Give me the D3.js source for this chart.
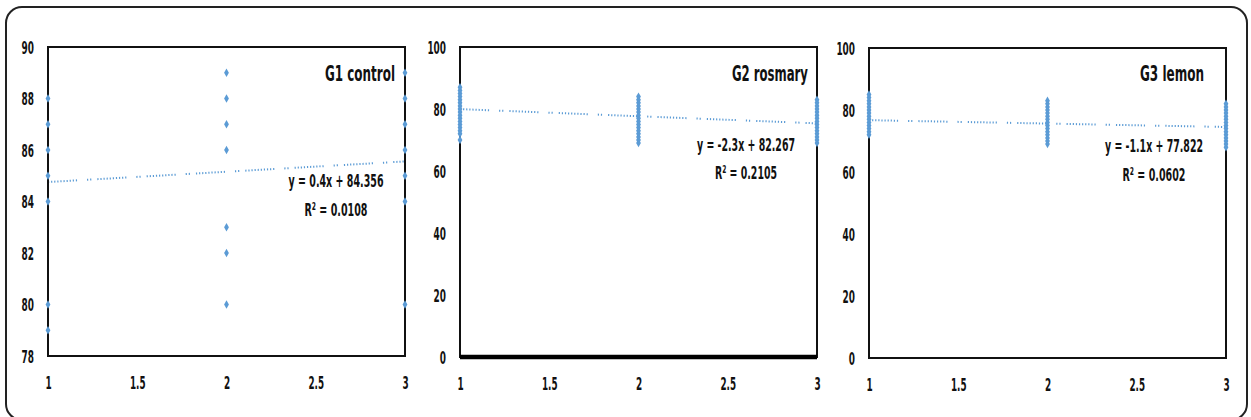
<!DOCTYPE html>
<html><head><meta charset="utf-8">
<script src="https://cdn.jsdelivr.net/npm/d3@7"></script>
<style>
html,body{margin:0;padding:0;background:#fff;}
svg{display:block;}
text{font-family:"Liberation Sans Narrow","Arial Narrow","DejaVu Sans Condensed","Liberation Sans",sans-serif;font-weight:bold;fill:#111;}
</style></head>
<body>
<svg id="chart" width="1251" height="417"></svg>
<script>
// ---- data ----
const xTicks = [1, 1.5, 2, 2.5, 3];
const titles = ["G1 control", "G2 rosmary", "G3 lemon"];
const equations = ["y = 0.4x + 84.356", "y = -2.3x + 82.267", "y = -1.1x + 77.822"];
const r2Labels = ["R² = 0.0108", "R² = 0.2105", "R² = 0.0602"];
const slopes = [0.4, -2.3, -1.1];
const intercepts = [84.356, 82.267, 77.822];
const yDomains = [[78, 90], [0, 100], [0, 100]];
const yTickSets = [[78, 80, 82, 84, 86, 88, 90], [0, 20, 40, 60, 80, 100], [0, 20, 40, 60, 80, 100]];

const g1Day1 = [88, 87, 86, 85, 84, 80, 79];
const g1Day2 = [89, 88, 87, 86, 83, 82, 80];
const g1Day3 = [89, 88, 87, 86, 85, 84, 80];
const g2Day1 = [87, 86, 85, 84, 83, 82, 81, 80, 79, 78, 77, 76, 75, 74, 73, 72, 70];
const g2Day2 = [84, 83, 82, 81, 80, 79, 78, 77, 76, 75, 74, 73, 72, 71, 70, 69];
const g2Day3 = [83, 82, 81, 80, 79, 78, 77, 76, 75, 74, 73, 72, 71, 70, 69];
const g3Day1 = [85, 84, 83, 82, 81, 80, 79, 78, 77, 76, 75, 74, 73, 72];
const g3Day2 = [83, 82, 81, 80, 79, 78, 77, 76, 75, 74, 73, 72, 71, 70, 69];
const g3Day3 = [82, 81, 80, 79, 78, 77, 76, 75, 74, 73, 72, 71, 70, 69, 68];
const groupDays = [[g1Day1, g1Day2, g1Day3], [g2Day1, g2Day2, g2Day3], [g3Day1, g3Day2, g3Day3]];

// ---- layout ----
const panels = [
  {l: 48, r: 405, t: 47, b: 356, bottomW: 2, titleX: 395, titleW: 70, eqCx: 336, eqY: 187, r2Y: 216, eqW: 95, r2W: 63},
  {l: 460, r: 817, t: 47, b: 357, bottomW: 4.5, titleX: 808, titleW: 76, eqCx: 746, eqY: 151, r2Y: 179, eqW: 98, r2W: 62},
  {l: 869, r: 1226, t: 48, b: 358, bottomW: 2, titleX: 1204, titleW: 64, eqCx: 1154, eqY: 152, r2Y: 181, eqW: 98, r2W: 63}
];
const blue = "#5b9bd5";

const svg = d3.select("#chart");
svg.append("rect").attr("x", 6).attr("y", 7).attr("width", 1241).attr("height", 413)
  .attr("rx", 16).attr("fill", "none").attr("stroke", "#222").attr("stroke-width", 2);

function fitText(sel, w) {
  sel.attr("textLength", w).attr("lengthAdjust", "spacingAndGlyphs");
}
function labelWidth(s) {
  let w = 0;
  for (const c of s) w += (c === "." ? 3.2 : 6.2);
  return w;
}

panels.forEach((p, i) => {
  const x = d3.scaleLinear().domain([1, 3]).range([p.l, p.r]);
  const y = d3.scaleLinear().domain(yDomains[i]).range([p.b, p.t]);
  const g = svg.append("g");

  // trendline (dotted)
  const tl = [1, 3].map(v => [x(v), y(slopes[i] * v + intercepts[i])]);
  const pat = [];
  for (let k = 0; k < 9; k++) pat.push(1.2, 1.9);
  pat.push(1.2, 10, 1.2, 1.9, 1.2, 6);
  g.append("path").attr("d", d3.line()(tl)).attr("fill", "none")
    .attr("stroke", blue).attr("stroke-width", 2).attr("stroke-dasharray", pat.join(","));

  // plot frame
  g.append("rect").attr("x", p.l).attr("y", p.t).attr("width", p.r - p.l).attr("height", p.b - p.t)
    .attr("fill", "none").attr("stroke", "#111").attr("stroke-width", 2);
  if (p.bottomW > 2) {
    g.append("line").attr("x1", p.l).attr("x2", p.r).attr("y1", p.b).attr("y2", p.b)
      .attr("stroke", "#000").attr("stroke-width", p.bottomW);
  }

  // axes
  const yAxis = g.append("g").attr("transform", `translate(${p.l},0)`)
    .call(d3.axisLeft(y).tickValues(yTickSets[i]).tickSize(0).tickPadding(14).tickFormat(d3.format("d")));
  yAxis.select(".domain").remove();
  yAxis.selectAll("text").style("font-size", "18px").style("font-family", null)
    .attr("dy", "0.36em").each(function(d) { fitText(d3.select(this), labelWidth(String(d))); });
  yAxis.attr("font-family", null).attr("font-size", null);

  const xAxis = g.append("g").attr("transform", `translate(0,${p.b})`)
    .call(d3.axisBottom(x).tickValues(xTicks).tickSize(0).tickPadding(20).tickFormat(d => String(d)));
  xAxis.select(".domain").remove();
  xAxis.selectAll("text").style("font-size", "18px")
    .each(function(d) { fitText(d3.select(this), labelWidth(String(d))); });
  xAxis.attr("font-family", null).attr("font-size", null);

  // points (diamonds)
  const pts = [];
  groupDays[i].forEach((vals, di) => vals.forEach(v => pts.push([di + 1, v])));
  const diamond = "M0,-4.2L2.4,0L0,4.2L-2.4,0Z";
  g.selectAll("path.pt").data(pts).enter().append("path").attr("class", "pt")
    .attr("d", diamond).attr("fill", blue)
    .attr("transform", d => `translate(${x(d[0])},${y(d[1])})`);

  // labels
  g.append("text").attr("x", p.titleX).attr("y", 81).attr("text-anchor", "end")
    .style("font-size", "22px").text(titles[i]).call(fitText, p.titleW);
  g.append("text").attr("x", p.eqCx).attr("y", p.eqY).attr("text-anchor", "middle")
    .style("font-size", "18px").text(equations[i]).call(fitText, p.eqW);
  g.append("text").attr("x", p.eqCx).attr("y", p.r2Y).attr("text-anchor", "middle")
    .style("font-size", "18px").text(r2Labels[i]).call(fitText, p.r2W);
});
</script>
</body></html>
